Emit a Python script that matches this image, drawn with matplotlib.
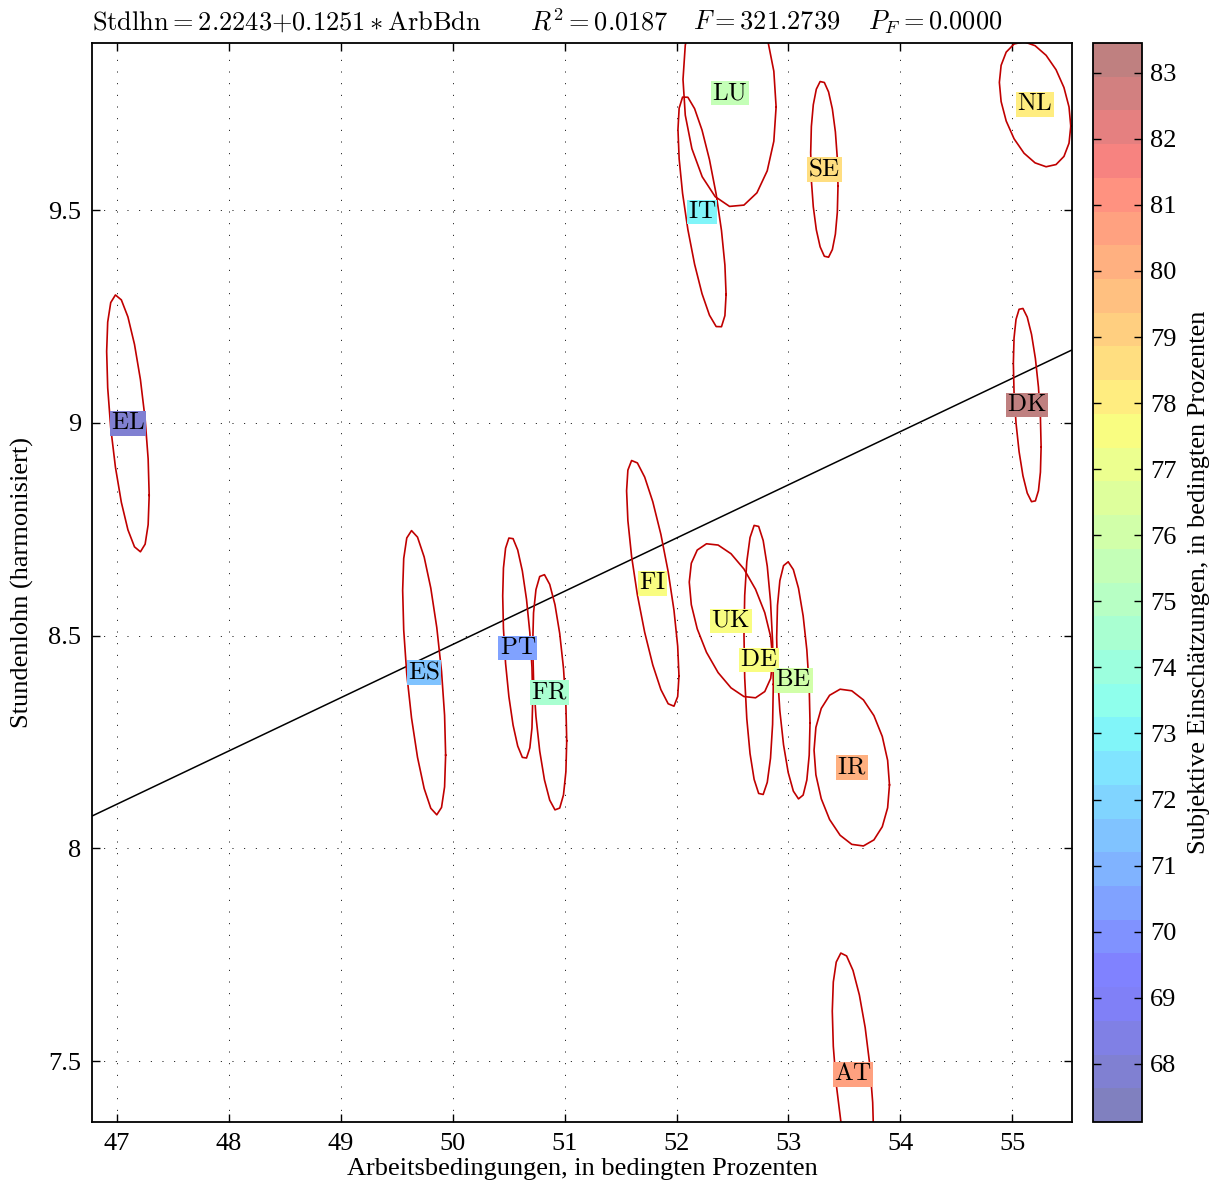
import numpy as np
import matplotlib
matplotlib.use('Agg')
import matplotlib.pyplot as plt
from matplotlib.colors import ListedColormap, Normalize
from matplotlib.cm import ScalarMappable

plt.rcParams['font.family'] = ['Liberation Serif', 'DejaVu Serif']
plt.rcParams['mathtext.fontset'] = 'cm'

# country means, spreads and correlations
countries = ['EL', 'ES', 'PT', 'FR', 'IT', 'LU', 'FI', 'UK', 'DE', 'BE', 'SE', 'IR', 'AT', 'DK', 'NL']
arb_mean = [47.098, 49.745, 50.581, 50.867, 52.228, 52.474, 51.788, 52.487, 52.734, 53.044, 53.321, 53.566, 53.577, 55.134, 55.204]
lohn_mean = [8.999, 8.413, 8.471, 8.367, 9.496, 9.775, 8.623, 8.535, 8.443, 8.395, 9.596, 8.190, 7.469, 9.042, 9.749]
arb_sd = [0.190, 0.192, 0.134, 0.152, 0.215, 0.416, 0.234, 0.373, 0.131, 0.149, 0.122, 0.337, 0.185, 0.124, 0.319]
lohn_sd = [0.302, 0.334, 0.261, 0.278, 0.273, 0.268, 0.290, 0.182, 0.319, 0.279, 0.208, 0.185, 0.286, 0.229, 0.147]
corr = [-0.56, -0.58, -0.47, -0.41, -0.71, -0.12, -0.75, -0.50, -0.18, -0.36, -0.19, -0.22, -0.52, -0.43, -0.35]
subj = [68.0, 71.5, 70.2, 74.3, 73.0, 75.3, 77.5, 77.7, 77.6, 76.3, 78.8, 80.2, 80.7, 83.2, 78.0]

intercept = 2.2243
slope = 0.1251
r2 = 0.0187
f_stat = 321.2739
p_f = 0.0000

subj_min, subj_max = 67.12, 83.45
cbar_ticks = list(range(68, 84))
x_ticks = list(range(47, 56))
y_ticks = [7.5, 8, 8.5, 9, 9.5]

# jet with 32 levels, half transparent on white
base = plt.get_cmap('jet', 32)(np.arange(32))[:, :3]
cmap = ListedColormap(0.5 + 0.5 * base)
norm = Normalize(subj_min, subj_max)

fig = plt.figure(figsize=(12.22, 11.92), dpi=100)
ax = fig.add_axes([92 / 1222, 1 - 1122 / 1192, 980 / 1222, 1079 / 1192])
cax = fig.add_axes([1093 / 1222, 1 - 1122 / 1192, 49 / 1222, 1079 / 1192])

ax.set_xlim(46.777, 55.534)
ax.set_ylim(7.357, 9.893)
ax.set_xticks(x_ticks)
ax.set_yticks(y_ticks)
ax.set_yticklabels(['7.5', '8', '8.5', '9', '9.5'])
ax.grid(True, color='black', linewidth=0.7, linestyle=(0, (1, 11)))
ax.tick_params(direction='in', top=True, right=True, length=6, width=1, labelsize=19, pad=8)
for s in ax.spines.values():
    s.set_linewidth(1.3)

# regression line across the whole x range
xl = np.array(ax.get_xlim())
ax.plot(xl, intercept + slope * xl, color='black', linewidth=1.1)

# confidence ellipses
t = np.linspace(0, 2 * np.pi, 21)
for mx, my, sx, sy, r in zip(arb_mean, lohn_mean, arb_sd, lohn_sd, corr):
    ex = mx + sx * np.cos(t)
    ey = my + sy * (r * np.cos(t) + np.sqrt(1 - r ** 2) * np.sin(t))
    ax.plot(ex, ey, color='#c00000', linewidth=1.2)

for c, mx, my, v in zip(countries, arb_mean, lohn_mean, subj):
    ax.text(mx, my, r'$\mathrm{%s}$' % c, ha='center', va='center', fontsize=18,
            bbox=dict(facecolor=cmap(norm(v)), edgecolor='none', boxstyle='square,pad=0.05'))

ax.set_xlabel('Arbeitsbedingungen, in bedingten Prozenten', fontsize=19, labelpad=2)
ax.set_ylabel('Stundenlohn (harmonisiert)', fontsize=19, labelpad=10)

# title in four pieces
ty = 1 - 22 / 1192
fig.text(92 / 1222, ty, r'$\mathrm{Stdlhn}\mathrm{=}%.4f\mathrm{+}%.4f \ast \mathrm{ArbBdn}$' % (intercept, slope),
         ha='left', va='center', fontsize=19)
fig.text(530 / 1222, ty, r'$R^2\mathrm{=}%.4f$' % r2, ha='left', va='center', fontsize=19)
fig.text(693 / 1222, ty, r'$F\mathrm{=}%.4f$' % f_stat, ha='left', va='center', fontsize=19)
fig.text(868 / 1222, ty, r'$P_F\mathrm{=}%.4f$' % p_f, ha='left', va='center', fontsize=19)

sm = ScalarMappable(norm=norm, cmap=cmap)
cb = fig.colorbar(sm, cax=cax, ticks=cbar_ticks)
cb.outline.set_linewidth(1.3)
cax.tick_params(direction='in', left=True, right=True, length=6, width=1, labelsize=19, pad=6)
cb.set_label('Subjektive Einschätzungen, in bedingten Prozenten', fontsize=19, labelpad=8)

fig.savefig('out.png', dpi=100)
